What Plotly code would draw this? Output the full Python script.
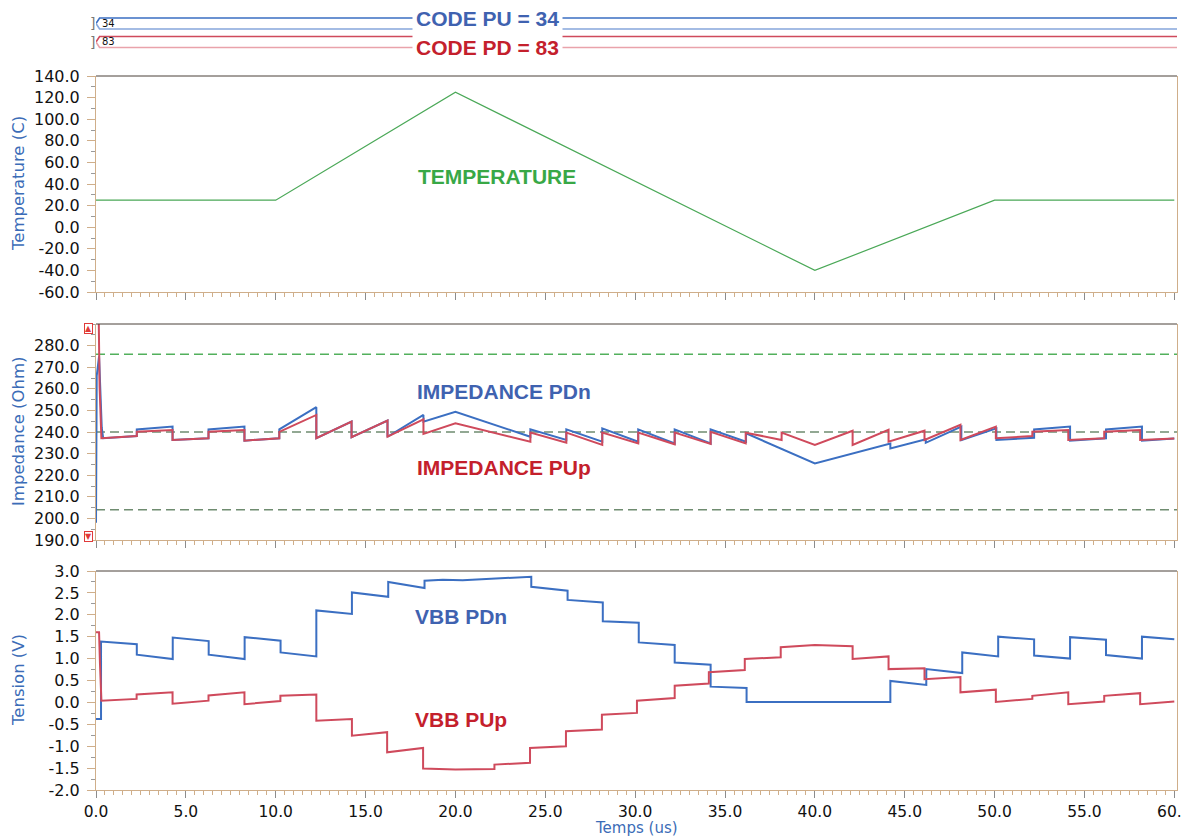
import plotly.graph_objects as go

# ---------------- data ----------------
# temperature ramp (time in us, temperature in C)
temp_t = [0, 10, 20, 40, 50, 60]
temp_c = [25, 25, 125, -40, 25, 25]

# calibration codes
code_pu = 34
code_pd = 83

# pull-down (n) impedance, Ohm
imp_pdn_t = [0.0, 0.04, 0.17, 0.24, 0.32, 0.40,
             2.27, 2.27, 4.26, 4.26, 6.26, 6.26, 8.26, 8.26, 10.2, 10.2,
             12.26, 12.26, 14.22, 14.22, 16.22, 16.22, 18.22, 18.22, 20.0,
             24.17, 24.17, 26.17, 26.17, 28.17, 28.17, 30.17, 30.17, 32.2, 32.2, 34.2, 34.2,
             36.17, 36.17, 40.0, 44.2, 44.2, 46.17, 46.17, 48.15, 48.15, 50.1, 50.1,
             52.2, 52.2, 54.2, 54.2, 56.2, 56.2, 58.2, 58.2, 60.0]
imp_pdn = [198, 266, 275, 258, 242, 237.1,
           238.1, 241.2, 242.5, 236.3, 237.1, 241.2, 242.5, 236.0, 237.1, 241.2,
           251.5, 237.1, 244.8, 237.6, 245.3, 237.8, 247.9, 244.8, 249.4,
           237.8, 241.2, 236.3, 241.2, 235.5, 241.7, 235.5, 241.2, 234.7, 241.2, 234.7, 241.2,
           235.5, 239.4, 225.4, 234.7, 232.4, 236.6, 235.0, 242.5, 236.2, 241.7, 236.3,
           237.3, 241.2, 242.5, 236.0, 237.1, 241.2, 242.5, 236.0, 237.0]

# pull-up (p) impedance, Ohm
imp_pup_t = [0.0, 0.14, 0.2, 0.3,
             2.27, 2.27, 4.26, 4.26, 6.26, 6.26, 8.26, 8.26, 10.2, 10.2,
             12.26, 12.26, 14.22, 14.22, 16.22, 16.22, 18.22, 18.22, 20.0,
             24.17, 24.17, 26.17, 26.17, 28.17, 28.17, 30.17, 30.17, 32.2, 32.2, 34.2, 34.2,
             36.15, 36.15, 38.15, 38.15, 40.0, 42.1, 42.1, 44.1, 44.1, 46.1, 46.1,
             48.1, 48.1, 50.07, 50.07,
             52.1, 52.1, 54.1, 54.1, 56.1, 56.1, 58.1, 58.1, 60.0]
imp_pup = [300, 300, 261, 237.1,
           238.1, 240.1, 240.9, 236.3, 237.1, 240.1, 240.9, 236.0, 237.1, 240.1,
           247.9, 237.1, 244.8, 237.6, 245.3, 237.8, 245.9, 239.1, 244.0,
           235.5, 239.7, 235.0, 239.7, 234.0, 239.7, 234.7, 239.7, 234.3, 239.7, 234.5, 240.1,
           234.7, 239.7, 236.3, 239.7, 234.0, 240.6, 234.0, 241.0, 235.5, 240.6, 236.3,
           243.3, 236.3, 242.5, 237.1,
           238.1, 240.1, 240.9, 236.3, 237.1, 240.1, 240.9, 236.3, 237.0]

# impedance limit levels, Ohm
imp_limits = [276, 240, 204]

# bulk bias voltages, V
vbb_pdn_t = [0.0, 0.28, 0.28, 2.27, 2.27, 4.27, 4.27, 6.27, 6.27, 8.27, 8.27, 10.27, 10.27,
             12.26, 12.26, 14.24, 14.24, 16.26, 16.26, 18.28, 18.28, 19.3, 20.4, 21.6, 22.8,
             24.22, 24.22,
             26.24, 26.24, 28.2, 28.2, 30.2, 30.2, 32.2, 32.2, 34.2, 34.2, 36.2, 36.2,
             44.2, 44.2, 46.2, 46.2, 48.2, 48.2, 50.2, 50.2, 52.2, 52.2, 54.2, 54.2,
             56.2, 56.2, 58.2, 58.2, 60.0]
vbb_pdn = [-0.38, -0.38, 1.39, 1.33, 1.09, 0.99, 1.48, 1.40, 1.09, 0.99, 1.49, 1.41, 1.14,
           1.05, 2.10, 2.02, 2.51, 2.41, 2.75, 2.61, 2.78, 2.80, 2.79, 2.81, 2.83,
           2.87, 2.64,
           2.55, 2.34, 2.28, 1.85, 1.82, 1.37, 1.31, 0.91, 0.86, 0.36, 0.33, 0.01,
           0.01, 0.49, 0.40, 0.76, 0.67, 1.14, 1.05, 1.50, 1.44, 1.07, 1.00, 1.49,
           1.43, 1.08, 1.00, 1.50, 1.44]

vbb_pup_t = [0.0, 0.17, 0.22, 0.3, 2.26, 2.26, 4.26, 4.26, 6.26, 6.26, 8.26, 8.26, 10.26, 10.26,
             12.26, 12.26, 14.24, 14.24, 16.2, 16.2, 18.2, 18.2, 20.0, 22.17, 22.17, 24.15, 24.15,
             26.15, 26.15, 28.15, 28.15, 30.1, 30.1, 32.2, 32.2, 34.1, 34.1, 36.1, 36.1,
             38.1, 38.1, 40.0,
             42.1, 42.1, 44.1, 44.1, 46.1, 46.1, 48.1, 48.1, 50.07, 50.07, 52.1, 52.1,
             54.1, 54.1, 56.1, 56.1, 58.1, 58.1, 60.0]
vbb_pup = [1.60, 1.60, 0.9, 0.04, 0.08, 0.18, 0.23, -0.03, 0.04, 0.16, 0.23, -0.04, 0.03, 0.15,
           0.18, -0.42, -0.38, -0.76, -0.68, -1.14, -1.04, -1.51, -1.53, -1.52, -1.42, -1.38, -1.04,
           -1.00, -0.66, -0.62, -0.28, -0.24, 0.04, 0.10, 0.38, 0.43, 0.69, 0.74, 0.99,
           1.03, 1.26, 1.31,
           1.28, 0.99, 1.05, 0.76, 0.78, 0.53, 0.58, 0.23, 0.29, 0.01, 0.08, 0.15,
           0.23, -0.04, 0.02, 0.15, 0.21, -0.04, 0.02]

# tick values
x_tickvals = [0, 5, 10, 15, 20, 25, 30, 35, 40, 45, 50, 55, 60]
temp_tickvals = [-60, -40, -20, 0, 20, 40, 60, 80, 100, 120, 140]
imp_tickvals = [190, 200, 210, 220, 230, 240, 250, 260, 270, 280]
ten_tickvals = [-2.0, -1.5, -1.0, -0.5, 0.0, 0.5, 1.0, 1.5, 2.0, 2.5, 3.0]

# ---------------- layout helpers ----------------
W, H = 1182, 836
M_L, M_R, M_T, M_B = 96, 5, 0, 46
PLOT_W = W - M_L - M_R
PLOT_H = H - M_T - M_B
T_END = 60.15


def ydom(top_px, bot_px):
    return [(PLOT_H - bot_px) / PLOT_H, (PLOT_H - top_px) / PLOT_H]


def px_x(px):
    return (px - M_L) / PLOT_W


def px_y(py):
    return (PLOT_H - py) / PLOT_H


BLUE = "#3b6fc2"
RED = "#cf4a5c"
BLUE_LIGHT = "#86a7dc"
RED_LIGHT = "#e9a3ab"
LBL_BLUE = "#3f62b0"
LBL_RED = "#c4202c"
GREEN_TXT = "#38a846"
TITLE_BLUE = "#3b6cb7"
TAN = "#cfae8a"
TICK_FONT = dict(family="DejaVu Sans", size=16, color="#111111")
BOLD_FONT = "Liberation Sans, Arial, sans-serif"

fig = go.Figure()

# temperature panel (x3 / y3)
fig.add_trace(go.Scatter(x=temp_t, y=temp_c, mode="lines",
                         line=dict(color="#4aa857", width=1.2),
                         xaxis="x3", yaxis="y3", showlegend=False))

# impedance panel (x2 / y2)
for lvl, col in zip(imp_limits, ["#52b05c", "#6f8c70", "#6f8c70"]):
    fig.add_trace(go.Scatter(x=[0, T_END], y=[lvl, lvl], mode="lines",
                             line=dict(color=col, width=1.3, dash="9px,5px"),
                             xaxis="x2", yaxis="y2", showlegend=False))
fig.add_trace(go.Scatter(x=imp_pdn_t, y=imp_pdn, mode="lines",
                         line=dict(color=BLUE, width=2),
                         xaxis="x2", yaxis="y2", showlegend=False))
fig.add_trace(go.Scatter(x=imp_pup_t, y=imp_pup, mode="lines",
                         line=dict(color=RED, width=2),
                         xaxis="x2", yaxis="y2", showlegend=False))

# tension panel (x / y)
fig.add_trace(go.Scatter(x=vbb_pdn_t, y=vbb_pdn, mode="lines",
                         line=dict(color=BLUE, width=2),
                         xaxis="x", yaxis="y", showlegend=False))
fig.add_trace(go.Scatter(x=vbb_pup_t, y=vbb_pup, mode="lines",
                         line=dict(color=RED, width=2),
                         xaxis="x", yaxis="y", showlegend=False))

# code buses (x4 / y4): row 1 = PU, row 0 = PD, each drawn as two rails
RAIL = 0.3
TIP = 0.2
for row, dark, light in [(1, BLUE, BLUE_LIGHT), (0, RED, RED_LIGHT)]:
    fig.add_trace(go.Scatter(x=[T_END, TIP, 0.0], y=[row + RAIL, row + RAIL, row],
                             mode="lines", line=dict(color=dark, width=1.6),
                             xaxis="x4", yaxis="y4", showlegend=False))
    fig.add_trace(go.Scatter(x=[0.0, TIP, T_END], y=[row, row - RAIL, row - RAIL],
                             mode="lines", line=dict(color=light, width=1.6),
                             xaxis="x4", yaxis="y4", showlegend=False))


def x_axis(**kw):
    d = dict(range=[0, T_END], showgrid=False, zeroline=False, automargin=False,
             showline=True, linecolor=TAN, linewidth=1,
             ticks="outside", tickmode="array", tickvals=x_tickvals,
             ticktext=[f"{v:.1f}" for v in x_tickvals],
             ticklen=7, tickcolor="#8c8c8c", tickwidth=1,
             minor=dict(ticks="outside", dtick=0.5, tick0=0, ticklen=4,
                        tickcolor=TAN, tickwidth=1),
             tickfont=dict(family="DejaVu Sans", size=15.5, color="#111111"),
             ticklabelstandoff=0, ticklabeloverflow="allow")
    d.update(kw)
    return d


def y_axis(rng, tickvals, minor_dtick, dom, **kw):
    d = dict(range=rng, domain=dom, showgrid=False, zeroline=False, automargin=False,
             showline=True, linecolor=TAN, linewidth=1, mirror=True,
             ticks="outside", tickmode="array", tickvals=tickvals,
             ticktext=[f"{v:.1f}" for v in tickvals],
             ticklen=8, tickcolor=TAN, tickwidth=1,
             minor=dict(ticks="outside", dtick=minor_dtick, tick0=0, ticklen=4,
                        tickcolor="#9a9a9a", tickwidth=1),
             tickfont=TICK_FONT, ticklabelstandoff=4)
    d.update(kw)
    return d


dom_code = ydom(10, 56)
dom_temp = ydom(76, 292)
dom_imp = ydom(324, 540)
dom_ten = ydom(571, 790)

fig.update_layout(
    width=W, height=H,
    margin=dict(l=M_L, r=M_R, t=M_T, b=M_B, autoexpand=False),
    paper_bgcolor="white", plot_bgcolor="white",
    xaxis=x_axis(anchor="y"),
    xaxis2=x_axis(anchor="y2", matches="x", showticklabels=False),
    xaxis3=x_axis(anchor="y3", matches="x", showticklabels=False),
    xaxis4=dict(anchor="y4", range=[0, T_END], visible=False, matches="x"),
    yaxis=y_axis([-2, 3], ten_tickvals, 0.25, dom_ten, anchor="x"),
    yaxis2=y_axis([190, 290], imp_tickvals, 5, dom_imp, anchor="x2"),
    yaxis3=y_axis([-60, 140], temp_tickvals, 10, dom_temp, anchor="x3"),
    yaxis4=dict(anchor="x4", domain=dom_code, range=[-0.757, 1.73], visible=False),
)

# dark top border on each plotting panel
for ax in ["", "2", "3"]:
    fig.add_shape(type="line", xref=f"x{ax} domain", yref=f"y{ax} domain",
                  x0=0, x1=1, y0=1, y1=1, line=dict(color="#4a4038", width=1))

ann = []
# axis titles
for text, yc in [("Temperature (C)", px_y(184)), ("Impedance (Ohm)", px_y(432)),
                 ("Tension (V)", px_y(680))]:
    ann.append(dict(text=text, xref="paper", yref="paper", x=px_x(18), y=yc,
                    textangle=-90, showarrow=False, xanchor="center", yanchor="middle",
                    font=dict(family="DejaVu Sans", size=16.5, color=TITLE_BLUE)))
ann.append(dict(text="Temps (us)", xref="paper", yref="paper", x=0.5, y=px_y(828),
                showarrow=False, xanchor="center", yanchor="middle", borderpad=0,
                font=dict(family="DejaVu Sans", size=15, color=TITLE_BLUE)))

# panel labels
ann.append(dict(text="<b>TEMPERATURE</b>", xref="x3", yref="y3", x=22.3, y=47.4,
                showarrow=False, font=dict(family=BOLD_FONT, size=21, color=GREEN_TXT)))
ann.append(dict(text="<b>IMPEDANCE PDn</b>", xref="x2", yref="y2", x=22.7, y=258.8,
                showarrow=False, font=dict(family=BOLD_FONT, size=21, color=LBL_BLUE)))
ann.append(dict(text="<b>IMPEDANCE PUp</b>", xref="x2", yref="y2", x=22.7, y=223.5,
                showarrow=False, font=dict(family=BOLD_FONT, size=21, color=LBL_RED)))
ann.append(dict(text="<b>VBB PDn</b>", xref="x", yref="y", x=20.3, y=1.95,
                showarrow=False, font=dict(family=BOLD_FONT, size=21, color=LBL_BLUE)))
ann.append(dict(text="<b>VBB PUp</b>", xref="x", yref="y", x=20.3, y=-0.39,
                showarrow=False, font=dict(family=BOLD_FONT, size=21, color=LBL_RED)))

# code bus labels
ann.append(dict(text=f"<b>CODE PU = {code_pu}</b>", xref="x4", yref="y4", x=21.8, y=1.25,
                showarrow=False, bgcolor="white", borderpad=3,
                font=dict(family=BOLD_FONT, size=21, color=LBL_BLUE)))
ann.append(dict(text=f"<b>CODE PD = {code_pd}</b>", xref="x4", yref="y4", x=21.8, y=-0.28,
                showarrow=False, bgcolor="white", borderpad=3,
                font=dict(family=BOLD_FONT, size=21, color=LBL_RED)))
for row, val in [(1, code_pu), (0, code_pd)]:
    ann.append(dict(text=str(val), xref="x4", yref="y4", x=0.25, y=row,
                    xanchor="left", yanchor="middle", showarrow=False,
                    font=dict(family="DejaVu Sans", size=10, color="#111111")))
    ann.append(dict(text="]", xref="paper", yref="y4", x=px_x(92), y=row,
                    xanchor="center", yanchor="middle", showarrow=False,
                    font=dict(family="DejaVu Sans", size=14, color="#777777")))

# out-of-range markers on the impedance axis
for sym, py in [("▲", 328), ("▼", 536)]:
    ann.append(dict(text=sym, xref="paper", yref="paper", x=px_x(88.5), y=px_y(py),
                    showarrow=False, xanchor="center", yanchor="middle",
                    bgcolor="white", bordercolor="#e03a3a", borderwidth=1, borderpad=0,
                    font=dict(family="DejaVu Sans", size=8, color="#e03a3a")))

fig.update_layout(annotations=ann)

fig.write_html("out.html")
